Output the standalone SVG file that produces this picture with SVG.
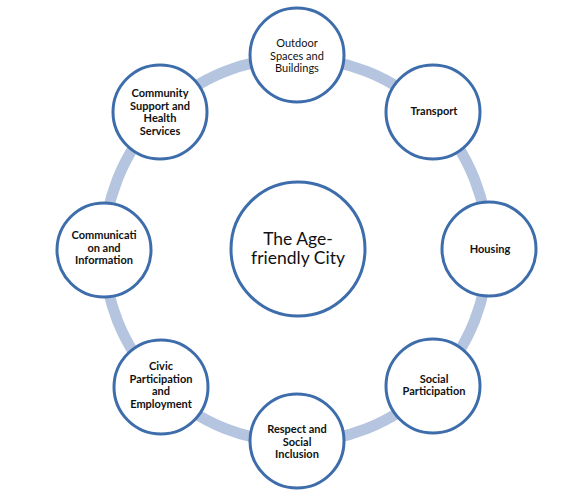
<svg xmlns="http://www.w3.org/2000/svg" width="580" height="498" viewBox="0 0 580 498">
<style>
.node{fill:#ffffff;stroke:#3e6dab;stroke-width:3}
.t{font-family:Lato,"Open Sans","Liberation Sans",sans-serif;font-size:11px;font-weight:bold;fill:#111;text-anchor:middle}
.n{font-weight:normal}
.c{font-family:Lato,"Open Sans","Liberation Sans",sans-serif;font-size:17.5px;fill:#111;text-anchor:middle}
</style>
<rect width="580" height="498" fill="#ffffff"/>
<g id="connectors">
<circle cx="296" cy="250" r="192" fill="none" stroke="#b5c5e0" stroke-width="11"/>
</g>
<g id="center">
<circle class="node" cx="298" cy="249" r="67"/>
<text class="c" x="298" y="245">The Age-</text>
<text class="c" x="298" y="264">friendly City</text>
</g>
<g id="outdoor">
<circle class="node" cx="297" cy="55" r="47"/>
<text class="t n" x="297" y="47">Outdoor</text>
<text class="t n" x="297" y="60">Spaces and</text>
<text class="t n" x="297" y="72">Buildings</text>
</g>
<g id="transport">
<circle class="node" cx="433" cy="112" r="47"/>
<text class="t" x="434" y="115">Transport</text>
</g>
<g id="housing">
<circle class="node" cx="489" cy="249" r="47"/>
<text class="t" x="490" y="253">Housing</text>
</g>
<g id="social">
<circle class="node" cx="433" cy="386" r="47"/>
<text class="t" x="434" y="383">Social</text>
<text class="t" x="434" y="395">Participation</text>
</g>
<g id="respect">
<circle class="node" cx="297" cy="441" r="47"/>
<text class="t" x="297" y="433">Respect and</text>
<text class="t" x="297" y="446">Social</text>
<text class="t" x="297" y="458">Inclusion</text>
</g>
<g id="civic">
<circle class="node" cx="161" cy="387" r="47"/>
<text class="t" x="161" y="370">Civic</text>
<text class="t" x="161" y="383">Participation</text>
<text class="t" x="161" y="395">and</text>
<text class="t" x="161" y="408">Employment</text>
</g>
<g id="communication">
<circle class="node" cx="104" cy="250" r="47"/>
<text class="t" x="104" y="239">Communicati</text>
<text class="t" x="104" y="252">on and</text>
<text class="t" x="104" y="264">Information</text>
</g>
<g id="community">
<circle class="node" cx="160" cy="112" r="47"/>
<text class="t" x="160" y="97">Community</text>
<text class="t" x="160" y="110">Support and</text>
<text class="t" x="160" y="122">Health</text>
<text class="t" x="160" y="135">Services</text>
</g>
</svg>
